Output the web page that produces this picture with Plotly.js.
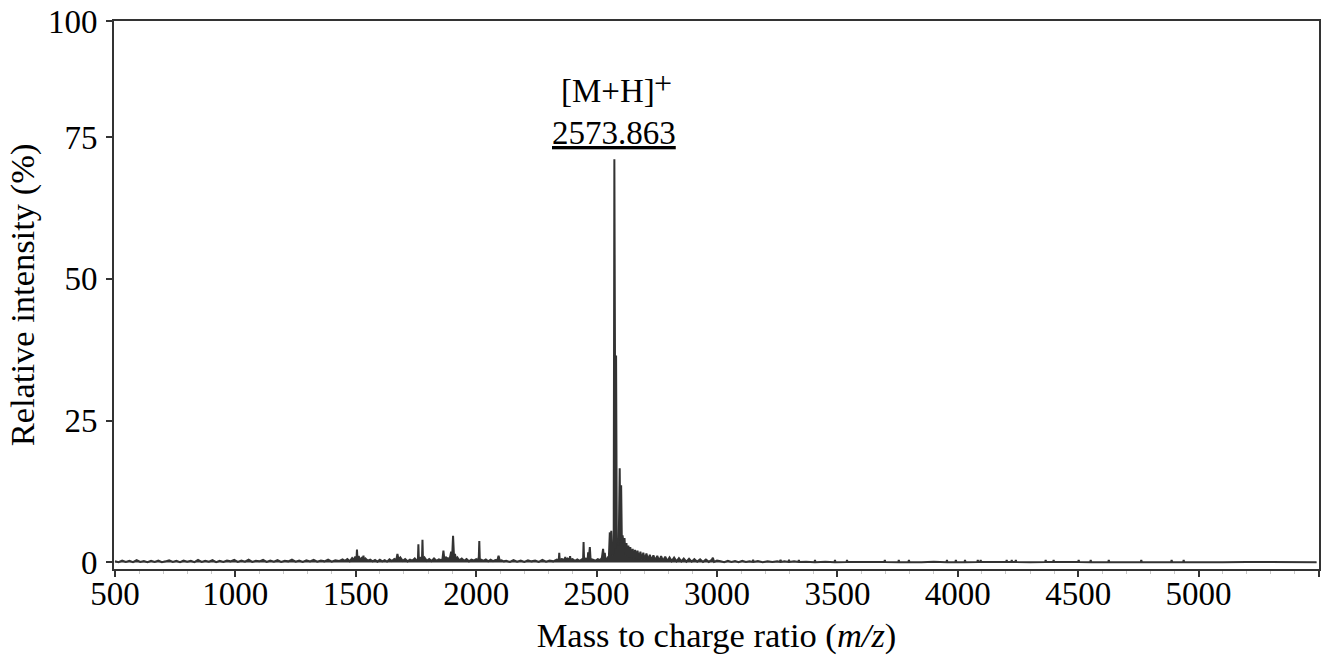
<!DOCTYPE html>
<html><head><meta charset="utf-8">
<script src="https://cdn.plot.ly/plotly-3.0.1.min.js"></script>
<style>html,body{margin:0;padding:0;background:#fff}#chart{width:1324px;height:655px}</style>
</head><body><div id="chart"></div>
<script>
// ---- Spectrum data (m/z, relative intensity %) ----
// Low-mass baseline region
const mzLow = [500,515,530,545,560,575,590,605,
  620,635,650,665,680,695,710,725,
  740,755,770,785,800,815,830,845,
  860,875,890,905,920,935,950,965,
  980,995,1010,1025,1040,1055,1070,1085,
  1100,1115,1130,1145,1160,1175,1190,1205,
  1220,1235,1250,1265,1280,1295,1310,1325,
  1340,1355,1370,1385,1400,1415,1430,1445];
const intLow = [0.2,0.05,0.35,0.1,0.3,0.05,0.4,0.1,
  0.25,0.05,0.3,0.1,0.35,0.05,0.2,0.4,
  0.1,0.3,0.05,0.35,0.15,0.3,0.05,0.45,
  0.1,0.3,0.15,0.4,0.05,0.3,0.1,0.35,
  0.2,0.45,0.1,0.35,0.15,0.5,0.1,0.3,
  0.2,0.45,0.1,0.35,0.15,0.4,0.1,0.3,
  0.2,0.5,0.15,0.35,0.1,0.4,0.2,0.45,
  0.15,0.35,0.2,0.5,0.15,0.4,0.25,0.55];

// Cluster 1450-2120
const mzC1 = [1455,1465,1475,1485,1492,1498,1503,1505,1507,1512,1518,1525,1530,1532,1534,1540,1550,1560,1570,1580,
  1590,1600,1610,1620,1630,1640,1650,1660,1668,1673,1678,1685,1695,1705,1715,1725,1735,1745,1752,
  1758,1760,1762,1768,1775,1777,1779,1785,1795,1805,1815,1825,1835,1845,1855,1860,1864,1868,1875,1885,1892,1896,1900,1904,1908,1912,1916,1922,1930,1940,
  1950,1960,1970,1980,1990,2000,2008,2011,2013,2015,2020,2030,2040,2050,2060,2070,2080,2088,2093,2098,2105,2115];
const intC1 = [0.3,0.6,0.2,0.8,0.5,1.0,0.6,2.3,0.7,1.1,0.5,0.8,0.4,1.2,0.4,0.7,0.3,0.5,0.2,0.45,
  0.15,0.5,0.2,0.4,0.15,0.55,0.25,0.6,0.4,1.5,0.5,0.9,0.3,0.6,0.2,0.5,0.3,0.7,0.4,
  0.4,3.2,0.5,0.8,0.6,4.0,0.6,0.9,0.3,0.6,0.25,0.7,0.3,0.55,0.4,0.6,2.1,0.5,0.9,0.6,1.0,1.9,0.8,4.7,1.0,1.5,0.6,0.9,0.4,0.7,
  0.3,0.6,0.2,0.5,0.35,0.6,0.4,1.0,3.8,0.6,0.45,0.3,0.55,0.2,0.5,0.25,0.45,0.4,1.2,0.3,0.4,0.2];

// Cluster 2120-2540
const mzC2 = [2125,2140,2155,2170,2185,2200,2215,2230,2245,2260,2275,2290,2305,2320,2335,
  2343,2345,2347,2355,2368,2370,2372,2380,2388,2390,2392,2400,2410,2420,2430,
  2440,2444,2446,2448,2455,2463,2465,2468,2472,2475,2485,2495,2505,2515,2522,2527,2530,2534,2537];
const intC2 = [0.3,0.1,0.4,0.15,0.35,0.1,0.4,0.2,0.35,0.1,0.45,0.15,0.35,0.2,0.5,
  0.4,1.7,0.4,0.6,0.5,1.0,0.5,0.7,0.4,1.1,0.5,0.6,0.3,0.55,0.3,
  0.6,0.5,3.6,0.6,0.7,0.6,1.8,0.8,2.7,0.6,0.5,0.3,0.6,0.4,0.8,2.4,1.0,1.7,0.6];

// Main [M+H]+ cluster
const mzMain = [2542,2548,2551,2555,2558,2561,2565,2568,2571,2573.863,2576,2579,2581,2584,2588,2592,2596,2599,2602,2605,2608,2612];
const intMain = [0.5,1.0,0.8,5.3,1.5,5.6,1.2,2.0,1.5,71.1,3.0,2.5,36.5,3.5,4.2,3.0,16.6,4.0,13.6,3.5,4.8,3.2];

// Decaying tail 2616-3000
const mzTail = [2616,2620,2624,2628,2632,2636,2640,2645,2650,2655,2660,2665,2670,2676,2682,2688,2694,2700,2707,2714,
  2721,2728,2736,2744,2752,2760,2768,2776,2785,2794,2803,2812,2822,2832,2842,2852,2862,2873,2884,2895,
  2906,2918,2930,2942,2954,2966,2978,2983,2988,3000];
const intTail = [4.3,1.2,3.4,1.0,3.0,0.9,2.7,0.8,2.4,0.7,2.2,0.6,2.1,0.6,1.9,0.5,1.7,0.5,1.6,0.4,
  1.35,0.4,1.25,0.35,1.15,0.3,1.1,0.3,1.0,0.25,0.9,0.25,0.85,0.2,0.75,0.2,0.7,0.15,0.65,0.15,
  0.6,0.15,0.55,0.1,0.5,0.1,0.45,0.85,0.1,0.35];

// High-mass flat region
const mzHigh = [3015,3030,3045,3060,3075,3090,3105,3120,3135,3148,
  3150,3152,3170,3190,3210,3230,3250,3262,3264,3266,
  3280,3297,3299,3301,3320,3338,3340,3342,3370,3405,
  3407,3409,3450,3488,3490,3492,3538,3540,3542,3600,
  3650,3695,3697,3699,3753,3755,3757,3795,3797,3799,
  3850,3900,3953,3955,3957,3990,3992,3994,4028,4030,
  4032,4081,4083,4085,4093,4095,4097,4150,4201,4203,
  4205,4222,4224,4226,4239,4241,4243,4300,4363,4365,
  4367,4396,4398,4400,4450,4500,4502,4504,4550,4552,
  4554,4625,4627,4629,4700,4760,4762,4764,4820,4886,
  4888,4890,4936,4938,4940,5000,5100,5200,5300,5400,
  5490];
const intHigh = [0.2,0.05,0.3,0.1,0.25,0.05,0.3,0.1,0.2,0.1,
  0.5,0.1,0.25,0.05,0.2,0.1,0.2,0.1,0.5,0.1,
  0.2,0.1,0.5,0.1,0.2,0.1,0.45,0.1,0.15,0.05,
  0.45,0.05,0.15,0.05,0.45,0.05,0.1,0.45,0.1,0.1,
  0.05,0.1,0.45,0.1,0.05,0.45,0.05,0.1,0.45,0.1,
  0.05,0.12,0.05,0.45,0.05,0.1,0.45,0.1,0.05,0.45,
  0.05,0.1,0.45,0.1,0.1,0.45,0.1,0.05,0.1,0.45,
  0.1,0.1,0.45,0.1,0.1,0.45,0.1,0.05,0.1,0.45,
  0.1,0.1,0.45,0.1,0.05,0.1,0.45,0.1,0.05,0.45,
  0.05,0.1,0.45,0.1,0.05,0.1,0.45,0.1,0.05,0.1,
  0.45,0.1,0.05,0.45,0.05,0.1,0.05,0.1,0.05,0.1,
  0.05];

// Axis ticks and labels
const xTickVals = [500,1000,1500,2000,2500,3000,3500,4000,4500,5000,5500];
const xTickText = ['500','1000','1500','2000','2500','3000','3500','4000','4500','5000',''];
const yTickVals = [0,25,50,75,95.45];
const yTickText = ['0','25','50','75','100'];
const xTitle = 'Mass to charge ratio (<i>m/z</i>)';
const yTitle = 'Relative intensity (%)';
const peakLabel = '[M+H]';
const peakCharge = '+';
const peakMz = 2573.863;
const peakIntensity = 71.1;

const mz = [].concat(mzLow, mzC1, mzC2, mzMain, mzTail, mzHigh);
const inten = [].concat(intLow, intC1, intC2, intMain, intTail, intHigh);

const FONT = 'Liberation Serif, Times New Roman, serif';
const trace = {
  x: mz, y: inten, type: 'scatter', mode: 'lines',
  line: {color: '#333333', width: 2}, fill: 'tozeroy', fillcolor: '#333333',
  hoverinfo: 'x+y'
};

const annFont = {family: FONT, size: 33, color: '#000'};
const layout = {
  width: 1324, height: 655,
  margin: {l: 114, r: 5, t: 21, b: 86},
  paper_bgcolor: '#ffffff', plot_bgcolor: '#ffffff',
  showlegend: false,
  font: {family: FONT, size: 33, color: '#000'},
  xaxis: {
    range: [496, 5500], tickmode: 'array', tickvals: xTickVals, ticktext: xTickText,
    showgrid: false, zeroline: false, showline: true, linecolor: '#333', linewidth: 2,
    mirror: true, ticks: 'outside', ticklen: 6, tickwidth: 2, tickcolor: '#333',
    ticklabelstandoff: -12,
    tickfont: {family: FONT, size: 33, color: '#000'},
    minor: {dtick: 100, tick0: 500, ticks: 'outside', ticklen: 3, tickwidth: 1, tickcolor: '#c8c8c8', showgrid: false},
    title: {text: xTitle, font: {family: FONT, size: 34.5, color: '#000'}, standoff: 16}
  },
  yaxis: {
    range: [-1.15, 95.45], tickmode: 'array', tickvals: yTickVals, ticktext: yTickText,
    showgrid: false, zeroline: false, showline: true, linecolor: '#333', linewidth: 2,
    mirror: true, ticks: 'outside', ticklen: 6, tickwidth: 2, tickcolor: '#333',
    ticklabelstandoff: 2,
    tickfont: {family: FONT, size: 33, color: '#000'},
    title: {text: yTitle, font: {family: FONT, size: 34.5, color: '#000'}, standoff: 3}
  },
  annotations: [
    {x: peakMz, y: peakIntensity, xref: 'x', yref: 'y',
     text: '<u>' + peakMz.toFixed(3) + '</u>',
     showarrow: false, xanchor: 'center', yanchor: 'bottom', yshift: 6, font: annFont},
    {x: peakMz, y: peakIntensity, xref: 'x', yref: 'y',
     text: peakLabel,
     showarrow: false, xanchor: 'center', yanchor: 'bottom', yshift: 48, xshift: -6, font: annFont},
    {x: peakMz, y: peakIntensity, xref: 'x', yref: 'y',
     text: peakCharge,
     showarrow: false, xanchor: 'center', yanchor: 'middle', yshift: 76, xshift: 49,
     font: {family: FONT, size: 32, color: '#000'}}
  ]
};

Plotly.newPlot('chart', [trace], layout, {displayModeBar: false, staticPlot: true});
</script>
</body></html>
